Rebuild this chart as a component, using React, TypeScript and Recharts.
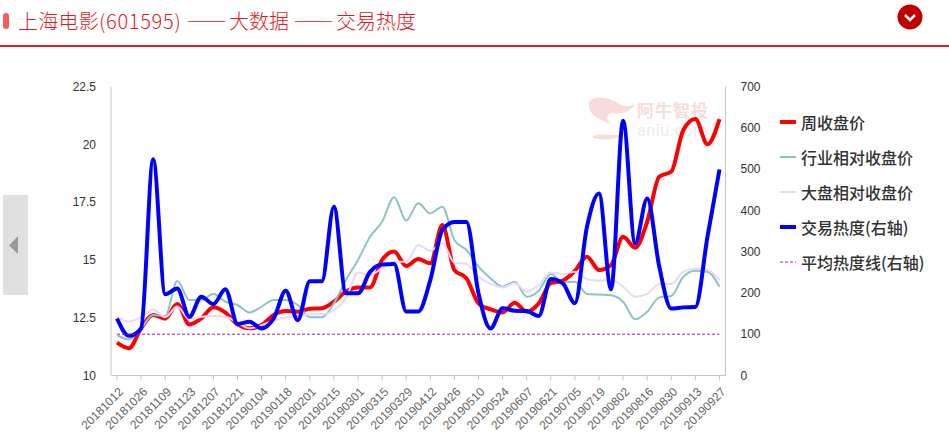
import { LineChart, Line, XAxis, YAxis, Legend } from "recharts"

const dates = [
  "20181012", "20181019", "20181026", "20181102", "20181109", "20181116", "20181123", "20181130", "20181207",
  "20181214", "20181221", "20181228", "20190104", "20190111", "20190118", "20190125", "20190201", "20190208",
  "20190215", "20190222", "20190301", "20190308", "20190315", "20190322", "20190329", "20190405", "20190412",
  "20190419", "20190426", "20190503", "20190510", "20190517", "20190524", "20190531", "20190607", "20190614",
  "20190621", "20190628", "20190705", "20190712", "20190719", "20190726", "20190802", "20190809", "20190816",
  "20190823", "20190830", "20190906", "20190913", "20190920", "20190927",
]

const weeklyClose = [
  11.42, 11.18, 12.04, 12.62, 12.46, 13.09, 12.21, 12.47, 12.95, 12.72, 12.21, 12.04, 12.18, 12.62, 12.79, 12.76,
  12.89, 12.91, 13.19, 13.63, 13.81, 13.81, 15.0, 15.36, 14.74, 15.04, 14.85, 16.51, 14.56, 14.2, 13.12, 12.86,
  12.73, 13.15, 12.76, 13.12, 13.99, 14.1, 14.53, 15.14, 14.56, 14.78, 16.0, 15.53, 16.65, 18.6, 18.82, 20.62,
  21.09, 20.0, 21.09,
]

const industryClose = [
  11.75, 11.56, 12.04, 12.62, 12.57, 14.09, 13.27, 13.27, 13.53, 13.19, 13.05, 12.73, 12.98, 13.27, 13.27, 13.05,
  12.52, 12.52, 13.12, 14.13, 15.0, 16.0, 16.65, 17.71, 16.7, 17.45, 17.01, 17.3, 15.86, 15.43, 14.71, 14.2,
  13.84, 14.06, 13.41, 13.67, 14.39, 14.03, 14.06, 13.53, 13.5, 13.47, 13.19, 12.43, 12.76, 13.38, 13.44, 14.27,
  14.53, 14.49, 13.84,
]

const marketClose = [
  12.52, 12.33, 12.52, 12.86, 12.52, 12.98, 12.43, 12.54, 12.57, 12.54, 12.29, 12.04, 12.18, 12.37, 12.52, 12.57,
  12.65, 12.65, 12.83, 13.34, 14.45, 14.35, 14.64, 14.92, 14.92, 15.64, 15.4, 15.72, 14.88, 14.82, 14.27, 13.96,
  13.81, 13.99, 13.63, 13.91, 14.46, 14.39, 14.49, 14.16, 14.1, 14.13, 13.84, 13.41, 13.53, 13.96, 13.96, 14.49,
  14.62, 14.56, 14.13,
]

const heat = [
  138, 96, 114, 524, 197, 211, 142, 191, 173, 209, 125, 130, 114, 138, 205, 134, 228, 228, 409, 199, 199, 251, 269,
  270, 155, 155, 231, 352, 372, 372, 199, 114, 163, 157, 156, 144, 234, 223, 175, 360, 441, 209, 617, 320, 429, 264,
  162, 165, 166, 336, 499,
]

const avgHeat = 100

const leftTicks = [10, 12.5, 15, 17.5, 20, 22.5]
const rightTicks = [0, 100, 200, 300, 400, 500, 600, 700]

const chartData = dates.map((date, i) => ({
  date,
  close: weeklyClose[i],
  industry: industryClose[i],
  market: marketClose[i],
  heat: heat[i],
  avg: avgHeat,
}))

const cjk = '"Noto Sans CJK SC", "Noto Sans", sans-serif'
const axisGrey = "#c4c6cc"
const xAxisBlue = "#b9c8dc"

function LegendList({ payload }: any) {
  return (
    <div style={{ fontFamily: cjk, fontSize: 16, color: "#333" }}>
      {(payload || []).map((p: any) => (
        <div key={p.value} style={{ height: 35, display: "flex", alignItems: "center" }}>
          <svg width={16} height={6} style={{ marginRight: 5 }}>
            <line
              x1={0}
              x2={16}
              y1={3}
              y2={3}
              stroke={p.color}
              strokeWidth={p.payload.strokeWidth}
              strokeDasharray={p.payload.strokeDasharray}
            />
          </svg>
          <span style={{ fontWeight: 500, lineHeight: "20px" }}>{p.value}</span>
        </div>
      ))}
    </div>
  )
}

const dash = { fontFeatureSettings: '"fwid"', letterSpacing: 2.5 }

export default function App() {
  return (
    <div
      style={{
        position: "absolute",
        left: 0,
        top: 0,
        width: 949,
        height: 447,
        background: "#fff",
        overflow: "hidden",
        fontFamily: cjk,
      }}
    >
      {/* header */}
      <div style={{ position: "absolute", left: 3, top: 13, width: 6, height: 16, borderRadius: 3, background: "#fb5a5c" }} />
      <div style={{ position: "absolute", left: 18, top: 6, fontSize: 20, lineHeight: "30px", fontWeight: 300, color: "#e01a22", whiteSpace: "nowrap" }}>
        <span style={{ letterSpacing: 0.25 }}>上海电影</span>
        <span style={{ letterSpacing: 0.7 }}>(601595) </span>
        <span style={dash}>——</span>大数据 <span style={dash}>——</span>交易热度
      </div>
      <div style={{ position: "absolute", left: 0, top: 45, width: 949, height: 2, background: "#dc2028" }} />
      <svg style={{ position: "absolute", left: 897, top: 4 }} width={26} height={26}>
        <circle cx={13} cy={13} r={12.5} fill="#c00000" />
        <path d="M8 11 L13 16 L18 11" fill="none" stroke="#fff" strokeWidth={2.5} />
      </svg>

      {/* side arrow */}
      <div style={{ position: "absolute", left: 3, top: 195, width: 25, height: 100, background: "#e0e0e0" }} />
      <svg style={{ position: "absolute", left: 9, top: 236 }} width={10} height={19}>
        <path d="M9 0 L0 9.5 L9 18 Z" fill="#999" />
      </svg>

      {/* watermark */}
      <svg style={{ position: "absolute", left: 585, top: 92 }} width={50} height={50}>
        <path d="M4 10 C10 2 26 6 36 13 C41 15 46 14 50 12 C44 23 32 22 26 21 C20 24 22 28 26 32 C16 28 2 24 4 10 Z" fill="#f7dcdc" />
        <path d="M8 44 C18 40 28 46 40 41 C30 49 18 48 8 46 Z" fill="#f7dcdc" />
      </svg>
      <div style={{ position: "absolute", left: 637, top: 100, fontSize: 17, letterSpacing: 1, lineHeight: "20px", fontWeight: 700, color: "#f7dcdc", whiteSpace: "nowrap" }}>
        阿牛智投
      </div>
      <div style={{ position: "absolute", left: 637, top: 122, fontSize: 16, letterSpacing: 0.6, lineHeight: "18px", color: "#ececec", fontFamily: "Roboto, sans-serif", whiteSpace: "nowrap" }}>
        aniu.com
      </div>

      <div style={{ position: "absolute", left: 0, top: 0 }}>
        <LineChart
          width={949}
          height={447}
          data={chartData}
          margin={{ top: 86.5, left: 61, right: 173.5, bottom: 11.5 }}
        >
          <XAxis
            dataKey="date"
            xAxisId="bottom"
            interval={1}
            padding={{ left: 6, right: 6 }}
            angle={-45}
            textAnchor="end"
            height={60}
            stroke={xAxisBlue}
            tickSize={5}
            tickMargin={6}
            tick={{ fontSize: 12, fill: "#666", dx: 1, fontFamily: "'Liberation Sans', Arial, sans-serif" }}
          />
          <XAxis dataKey="date" xAxisId="top" orientation="top" height={0} tick={false} tickLine={false} stroke={axisGrey} />
          <YAxis
            yAxisId="left"
            domain={[10, 22.5]}
            ticks={leftTicks}
            interval={0}
            width={50}
            tickLine={false}
            stroke={axisGrey}
            tickMargin={9}
            tick={{ fontSize: 12, fill: "#333", fontFamily: "'Liberation Sans', Arial, sans-serif" }}
          />
          <YAxis
            yAxisId="right"
            orientation="right"
            domain={[0, 700]}
            ticks={rightTicks}
            interval={0}
            width={50}
            tickLine={false}
            stroke={axisGrey}
            tickMargin={9}
            tick={{ fontSize: 12, fill: "#333", fontFamily: "'Liberation Sans', Arial, sans-serif" }}
          />
          <Legend
            layout="vertical"
            align="center"
            verticalAlign="middle"
            itemSorter={null}
            content={<LegendList />}
            wrapperStyle={{ left: 780, top: 104, width: 169, bottom: "auto", right: "auto" }}
          />
          <Line xAxisId="bottom" yAxisId="left" name="周收盘价" dataKey="close" type="monotone" stroke="#ff0000" strokeWidth={4} dot={false} isAnimationActive={false} />
          <Line xAxisId="bottom" yAxisId="left" name="行业相对收盘价" dataKey="industry" type="monotone" stroke="#8cc4c2" strokeWidth={2} dot={false} isAnimationActive={false} />
          <Line xAxisId="bottom" yAxisId="left" name="大盘相对收盘价" dataKey="market" type="monotone" stroke="#e8d8fc" strokeWidth={2} dot={false} isAnimationActive={false} />
          <Line xAxisId="bottom" yAxisId="right" name="交易热度(右轴)" dataKey="heat" type="monotone" stroke="#0000ff" strokeWidth={4} dot={false} isAnimationActive={false} />
          <Line xAxisId="bottom" yAxisId="right" name="平均热度线(右轴)" dataKey="avg" type="linear" stroke="#a020a8" strokeWidth={1} strokeDasharray="3 2" dot={false} isAnimationActive={false} />
        </LineChart>
      </div>
    </div>
  )
}
